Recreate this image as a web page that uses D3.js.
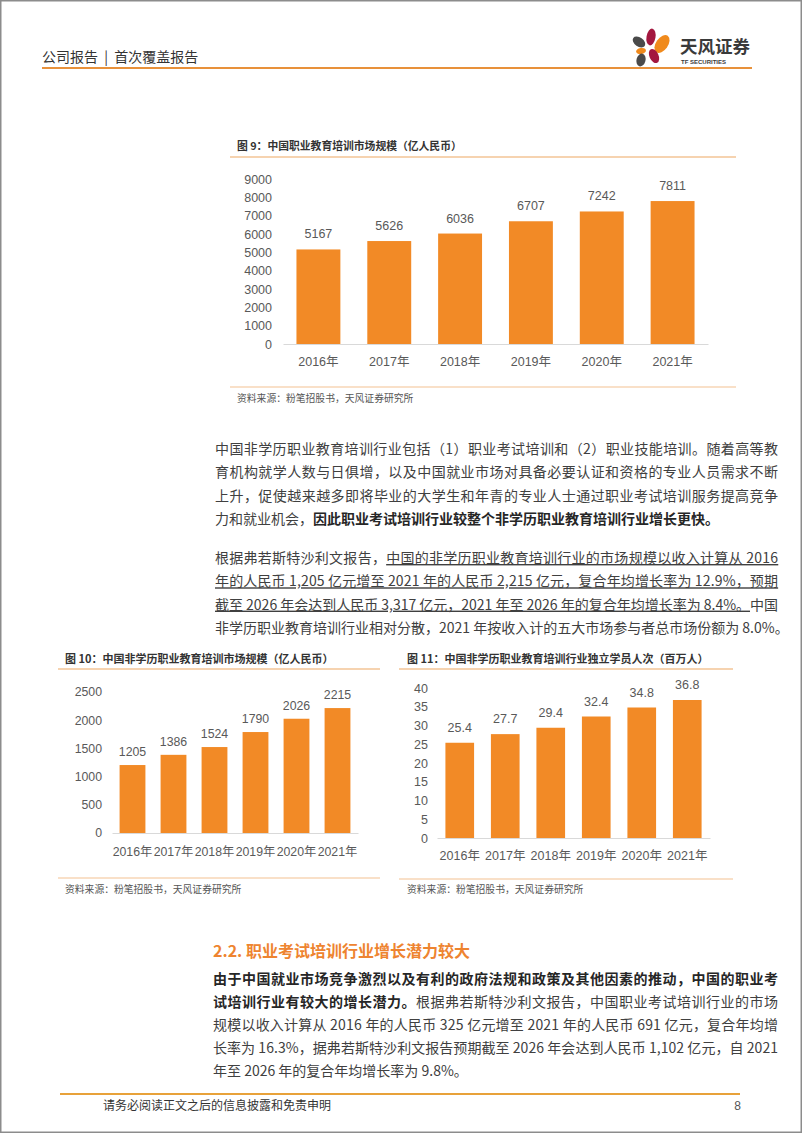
<!DOCTYPE html>
<html>
<head>
<meta charset="utf-8">
<script src="https://cdn.jsdelivr.net/npm/d3@7"></script>
<style>
body { margin: 0; background: #fff; }
svg { display: block; }
</style>
</head>
<body>
<div id="page"></div>
<script>
// chart data
var years = ["2016年", "2017年", "2018年", "2019年", "2020年", "2021年"];
var marketSize = [5167, 5626, 6036, 6707, 7242, 7811];      // fig 9, 亿人民币
var nonDegreeSize = [1205, 1386, 1524, 1790, 2026, 2215];   // fig 10, 亿人民币
var students = [25.4, 27.7, 29.4, 32.4, 34.8, 36.8];        // fig 11, 百万人
var ticks9 = [0, 1000, 2000, 3000, 4000, 5000, 6000, 7000, 8000, 9000];
var ticks10 = [0, 500, 1000, 1500, 2000, 2500];
var ticks11 = [0, 5, 10, 15, 20, 25, 30, 35, 40];

var W = 802, H = 1133;
var ORANGE = "#F28A26";
var LABEL = "#595959";
var cjk = "'Noto Sans CJK SC', sans-serif";
var num = "'Liberation Sans', Arial, 'Noto Sans CJK SC', sans-serif";

var svg = d3.select("#page").append("svg")
    .attr("width", W).attr("height", H);

svg.append("rect").attr("width", W).attr("height", H).attr("fill", "#fff");

/*
  page header
*/
svg.append("text")
    .attr("x", 42).attr("y", 62)
    .attr("font-family", cjk).attr("font-size", 14)
    .attr("fill", "#333")
    .style("white-space", "pre")
    .text("公司报告  |  首次覆盖报告");

svg.append("line")
    .attr("x1", 42).attr("x2", 752).attr("y1", 68).attr("y2", 68)
    .attr("stroke", "#E8913A").attr("stroke-width", 2);

// logo: petals + name
var logo = svg.append("g");
var petals = [
    { cx: 651, cy: 37, rx: 4.5, ry: 8.5, r: 10, c: "#A3173F" },
    { cx: 662, cy: 44, rx: 6, ry: 10, r: 35, c: "#F08A1C" },
    { cx: 639, cy: 42, rx: 4.5, ry: 7, r: -55, c: "#4A4A4A" },
    { cx: 641, cy: 51, rx: 5, ry: 3, r: -10, c: "#F08A1C" },
    { cx: 654, cy: 56, rx: 4.5, ry: 7.5, r: -25, c: "#A3173F" },
    { cx: 641, cy: 60, rx: 4.5, ry: 6.5, r: 15, c: "#4A4A4A" }
];
logo.selectAll("ellipse").data(petals).enter().append("ellipse")
    .attr("cx", d => d.cx).attr("cy", d => d.cy)
    .attr("rx", d => d.rx).attr("ry", d => d.ry)
    .attr("transform", d => "rotate(" + d.r + "," + d.cx + "," + d.cy + ")")
    .attr("fill", d => d.c);
logo.append("text")
    .attr("x", 680).attr("y", 53)
    .attr("font-family", cjk).attr("font-size", 17.5).attr("font-weight", 700)
    .attr("fill", "#3a3a3a")
    .text("天风证券");
logo.append("text")
    .attr("x", 681).attr("y", 63.5)
    .attr("font-family", num).attr("font-size", 6).attr("font-weight", 700)
    .attr("fill", "#3a3a3a")
    .text("TF SECURITIES");

/*
  bar charts
*/
function barChart(cfg) {
    var g = svg.append("g");

    g.append("text")
        .attr("x", cfg.titleX).attr("y", cfg.titleY)
        .attr("font-family", cjk).attr("font-size", cfg.titleSize).attr("font-weight", 700)
        .attr("fill", "#333")
        .text(cfg.title);

    g.append("line")
        .attr("x1", cfg.lineX0).attr("x2", cfg.lineX1)
        .attr("y1", cfg.titleLineY).attr("y2", cfg.titleLineY)
        .attr("stroke", "#F6D3B0").attr("stroke-width", 2);

    g.append("line")
        .attr("x1", cfg.lineX0).attr("x2", cfg.lineX1)
        .attr("y1", cfg.srcLineY).attr("y2", cfg.srcLineY)
        .attr("stroke", "#F9E0C8").attr("stroke-width", 2);

    g.append("text")
        .attr("x", cfg.titleX).attr("y", cfg.srcY)
        .attr("font-family", cjk).attr("font-size", 9.8)
        .attr("fill", "#555")
        .text("资料来源：粉笔招股书，天风证券研究所");

    var x = d3.scaleBand()
        .domain(years)
        .range([cfg.x0, cfg.x1])
        .paddingInner(cfg.pad).paddingOuter(cfg.pad / 2);

    var y = d3.scaleLinear()
        .domain([0, cfg.ticks[cfg.ticks.length - 1]])
        .range([cfg.base, cfg.top]);

    var yAxis = g.append("g")
        .attr("transform", "translate(" + cfg.x0 + ",0)")
        .call(d3.axisLeft(y).tickValues(cfg.ticks).tickFormat(d3.format("d"))
            .tickSize(0).tickPadding(cfg.yPad));
    yAxis.select(".domain").remove();
    yAxis.selectAll("text")
        .attr("font-family", num).attr("font-size", cfg.fs).attr("fill", LABEL);

    var data = years.map((d, i) => ({ year: d, v: cfg.values[i] }));

    g.selectAll(".bar")
        .data(data)
        .enter().append("rect")
        .attr("class", "bar")
        .attr("x", d => x(d.year))
        .attr("width", x.bandwidth())
        .attr("y", d => y(d.v))
        .attr("height", d => cfg.base - y(d.v))
        .attr("fill", ORANGE);

    g.selectAll(".val")
        .data(data)
        .enter().append("text")
        .attr("class", "val")
        .attr("x", d => x(d.year) + x.bandwidth() / 2)
        .attr("y", d => y(d.v) - cfg.valGap)
        .attr("text-anchor", "middle")
        .attr("font-family", num).attr("font-size", cfg.fs).attr("fill", LABEL)
        .text(d => d.v);

    var xAxis = g.append("g")
        .attr("transform", "translate(0," + cfg.base + ")")
        .call(d3.axisBottom(x).tickSize(0).tickPadding(cfg.xPad));
    xAxis.select(".domain").attr("stroke", "#D9D9D9").attr("stroke-width", 1);
    xAxis.selectAll("text")
        .attr("font-family", num).attr("font-size", cfg.fs).attr("fill", LABEL);
}

barChart({
    title: "图 9：中国职业教育培训市场规模（亿人民币）",
    titleX: 237, titleY: 150, titleLineY: 157, titleSize: 10.8,
    lineX0: 230, lineX1: 736, srcLineY: 387, srcY: 402,
    x0: 283, x1: 708, base: 344, top: 179.3, pad: 0.38,
    ticks: ticks9, values: marketSize, fs: 12.5,
    yPad: 11, xPad: 13, valGap: 11
});

barChart({
    title: "图 10：中国非学历职业教育培训市场规模（亿人民币）",
    titleX: 65, titleY: 663, titleLineY: 669, titleSize: 11,
    lineX0: 58, lineX1: 380, srcLineY: 878, srcY: 893,
    x0: 112, x1: 358, base: 833, top: 692, pad: 0.37,
    ticks: ticks10, values: nonDegreeSize, fs: 12.3,
    yPad: 10, xPad: 14, valGap: 9
});

barChart({
    title: "图 11：中国非学历职业教育培训行业独立学员人次（百万人）",
    titleX: 407, titleY: 663, titleLineY: 669, titleSize: 11,
    lineX0: 399, lineX1: 733, srcLineY: 879, srcY: 893,
    x0: 437, x1: 710, base: 838, top: 688, pad: 0.37,
    ticks: ticks11, values: students, fs: 12.5,
    yPad: 9, xPad: 13, valGap: 11
});

/*
  body text
*/
function para(lines, x, y0, lh, width) {
    lines.forEach(function(segs, i) {
        var t = svg.append("text")
            .attr("x", x).attr("y", y0 + i * lh)
            .attr("font-family", cjk).attr("font-size", 14);
        segs.forEach(function(s) {
            t.append("tspan")
                .attr("font-weight", s.b ? 700 : 400)
                .attr("fill", s.b ? "#262626" : "#404040")
                .style("text-decoration", s.u ? "underline" : null)
                .text(s.t);
        });
        if (i < lines.length - 1) {
            var n = t.text().length;
            var w = t.node().getComputedTextLength();
            t.attr("letter-spacing", (width - w) / (n - 1));
        }
    });
}

para([
    [{ t: "中国非学历职业教育培训行业包括（1）职业考试培训和（2）职业技能培训。随着高等教" }],
    [{ t: "育机构就学人数与日俱增，以及中国就业市场对具备必要认证和资格的专业人员需求不断" }],
    [{ t: "上升，促使越来越多即将毕业的大学生和年青的专业人士通过职业考试培训服务提高竞争" }],
    [{ t: "力和就业机会，" }, { t: "因此职业考试培训行业较整个非学历职业教育培训行业增长更快。", b: true }]
], 215, 454, 23.3, 563);

para([
    [{ t: "根据弗若斯特沙利文报告，" }, { t: "中国的非学历职业教育培训行业的市场规模以收入计算从 2016", u: true }],
    [{ t: "年的人民币 1,205 亿元增至 2021 年的人民币 2,215 亿元，复合年均增长率为 12.9%，预期", u: true }],
    [{ t: "截至 2026 年会达到人民币 3,317 亿元，2021 年至 2026 年的复合年均增长率为 8.4%。", u: true }, { t: "中国" }],
    [{ t: "非学历职业教育培训行业相对分散，2021 年按收入计的五大市场参与者总市场份额为 8.0%。" }]
], 215, 563, 23.3, 563);

svg.append("text")
    .attr("x", 213).attr("y", 957)
    .attr("font-family", cjk).attr("font-size", 16).attr("font-weight", 700)
    .attr("fill", "#EE8430")
    .text("2.2. 职业考试培训行业增长潜力较大");

para([
    [{ t: "由于中国就业市场竞争激烈以及有利的政府法规和政策及其他因素的推动，中国的职业考", b: true }],
    [{ t: "试培训行业有较大的增长潜力。", b: true }, { t: "根据弗若斯特沙利文报告，中国职业考试培训行业的市场" }],
    [{ t: "规模以收入计算从 2016 年的人民币 325 亿元增至 2021 年的人民币 691 亿元，复合年均增" }],
    [{ t: "长率为 16.3%，据弗若斯特沙利文报告预期截至 2026 年会达到人民币 1,102 亿元，自 2021" }],
    [{ t: "年至 2026 年的复合年均增长率为 9.8%。" }]
], 213, 984, 23.1, 565);

/*
  footer
*/
svg.append("line")
    .attr("x1", 60).attr("x2", 740).attr("y1", 1094).attr("y2", 1094)
    .attr("stroke", "#E8A23A").attr("stroke-width", 2);
svg.append("text")
    .attr("x", 103).attr("y", 1110)
    .attr("font-family", cjk).attr("font-size", 12).attr("fill", "#333")
    .text("请务必阅读正文之后的信息披露和免责申明");
svg.append("text")
    .attr("x", 741).attr("y", 1110)
    .attr("text-anchor", "end")
    .attr("font-family", num).attr("font-size", 12).attr("fill", "#555")
    .text("8");

// page frame
svg.append("rect")
    .attr("x", 0.75).attr("y", 0.75).attr("width", W - 1.5).attr("height", H - 1.5)
    .attr("fill", "none").attr("stroke", "#8c8c8c").attr("stroke-width", 1.5);
</script>
</body>
</html>
